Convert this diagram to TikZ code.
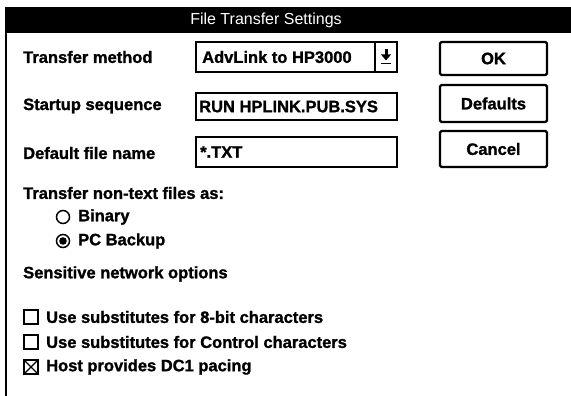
\documentclass[tikz,border=0pt]{standalone}
\usepackage{fontspec}
\setmainfont{Liberation Sans}[BoldFeatures={FakeBold=1.3}]
\begin{document}
\begin{tikzpicture}[x=1pt,y=-1pt,
  lbl/.style={anchor=west, inner sep=0pt, font=\fontsize{16.5}{19}\selectfont\bfseries},
  field/.style={draw, line width=1.6pt, inner sep=0pt},
  btn/.style={draw, line width=2.4pt, rounded corners=1.5pt, inner sep=0pt, font=\fontsize{16.5}{19}\selectfont\bfseries},
  radiobtn/.style={draw, circle, line width=1.5pt, minimum size=13pt, inner sep=0pt},
  chkbox/.style={draw, line width=1.5pt, minimum size=14pt, inner sep=0pt}]
\useasboundingbox (0,0) rectangle (571,396);
\fill[white] (0,0) rectangle (571,396);
% title bar and frame
\fill[black] (5,7) rectangle (571,33);
\node[anchor=center, inner sep=0pt, text=white, font=\fontsize{16}{19}\selectfont] (title) at (266,20) {File Transfer Settings};
\draw[line width=2pt] (6,33) -- (6,396);
% labels
\node[lbl] (l1) at (23,57) {Transfer method};
\node[lbl] (l2) at (23,106) {Startup sequence};
\node[lbl] (l3) at (23,153) {Default file name};
% fields
\node[field, minimum width=201pt, minimum height=30pt] (combo) at (296.5,57) {};
\draw[line width=1.6pt] (375,42) -- (375,72);
\node[lbl] (t1) at (202,57) {AdvLink to HP3000};
\node[field, minimum width=201pt, minimum height=27pt] (startup) at (296.5,106.5) {};
\node[lbl] (t2) at (199,106.5) {RUN HPLINK.PUB.SYS};
\node[field, minimum width=201pt, minimum height=30pt] (deffile) at (296.5,152) {};
\node[lbl] (t3) at (200,152) {*.TXT};
% dropdown arrow icon
\fill (384.5,49) rectangle (387.5,55);
\fill (381,54.5) -- (391,54.5) -- (386,60.5) -- cycle;
\draw[line width=1.5pt] (381,63.5) -- (391,63.5);
% buttons
\node[btn, minimum width=107pt, minimum height=33pt] (ok) at (493.5,58.5) {OK};
\node[btn, minimum width=107pt, minimum height=37pt] (defaults) at (493.5,103.5) {Defaults};
\node[btn, minimum width=107pt, minimum height=36pt] (cancel) at (493.5,149) {Cancel};
% transfer non-text
\node[lbl] (l4) at (23,193) {Transfer non-text files as:};
\node[radiobtn] (r1) at (63,217) {};
\node[lbl] (t4) at (78,217) {Binary};
\node[radiobtn] (r2) at (63,241) {};
\fill (r2.center) circle (3.8pt);
\node[lbl] (t5) at (78,241) {PC Backup};
% sensitive options
\node[lbl] (l5) at (23,274) {Sensitive network options};
\node[chkbox] (c1) at (31,317) {};
\node[lbl] (t6) at (46,317) {Use substitutes for 8-bit characters};
\node[chkbox] (c2) at (31,342) {};
\node[lbl] (t7) at (46,342) {Use substitutes for Control characters};
\node[chkbox] (c3) at (31,367) {};
\draw[line width=1.4pt] (c3.north west) -- (c3.south east) (c3.north east) -- (c3.south west);
\node[lbl] (t8) at (46,367) {Host provides DC1 pacing};
\end{tikzpicture}
\end{document}
